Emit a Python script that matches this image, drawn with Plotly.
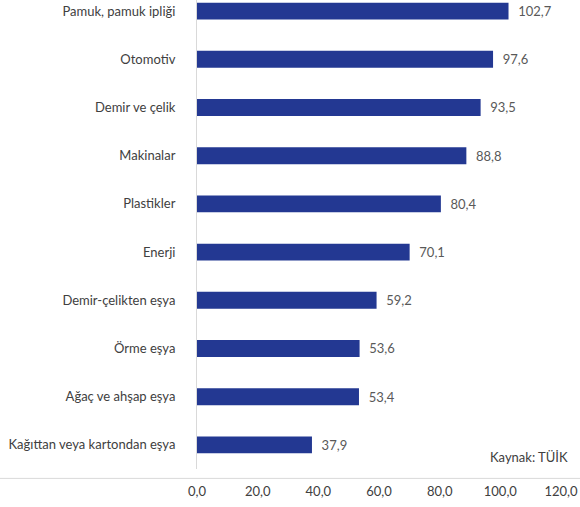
import plotly.graph_objects as go

categories = ["Pamuk, pamuk ipliği", "Otomotiv", "Demir ve çelik", "Makinalar", "Plastikler",
              "Enerji", "Demir-çelikten eşya", "Örme eşya", "Ağaç ve ahşap eşya",
              "Kağıttan veya kartondan eşya"]
values = [102.7, 97.6, 93.5, 88.8, 80.4, 70.1, 59.2, 53.6, 53.4, 37.9]
tick_vals = [0, 20, 40, 60, 80, 100, 120]
tick_text = ["0,0", "20,0", "40,0", "60,0", "80,0", "100,0", "120,0"]

labels = ["  " + f"{v:.1f}".replace(".", ",") for v in values]

fig = go.Figure(go.Bar(
    x=values, y=categories, orientation="h",
    marker=dict(color="#233892", line=dict(width=0)),
    width=0.35,
    text=labels, textposition="outside", cliponaxis=False,
    textfont=dict(color="#595959", size=13, family="Lato"),
    hoverinfo="skip",
))

fig.update_layout(
    width=580, height=507,
    margin=dict(l=197, r=19, t=0, b=38),
    paper_bgcolor="white", plot_bgcolor="white",
    font=dict(family="Lato", size=13, color="#404040"),
    showlegend=False,
    xaxis=dict(range=[0, 120], tickvals=tick_vals, ticktext=tick_text,
               showgrid=False, zeroline=False, showline=False,
               ticks="outside", ticklen=10, tickcolor="rgba(0,0,0,0)",
               tickfont=dict(color="#404040", size=13)),
    yaxis=dict(type="category", categoryorder="array", categoryarray=categories,
               range=[9.5, -0.23], showgrid=False, zeroline=False,
               showline=True, linecolor="#d9d9d9", linewidth=1,
               ticks="outside", ticklen=18, tickcolor="rgba(0,0,0,0)",
               tickfont=dict(color="#404040", size=13)),
    annotations=[dict(text="Kaynak: TÜİK", xref="paper", yref="paper",
                      x=1.024, y=0.025, xanchor="right", yanchor="middle",
                      showarrow=False, font=dict(size=13, color="#404040"))],
    shapes=[dict(type="line", xref="paper", yref="paper", x0=-0.6, x1=1.06,
                 y0=-0.02, y1=-0.02, line=dict(color="#d9d9d9", width=1))],
)

fig.write_html("out.html", config={"displayModeBar": False},
               post_script="document.body.style.margin='0';")
